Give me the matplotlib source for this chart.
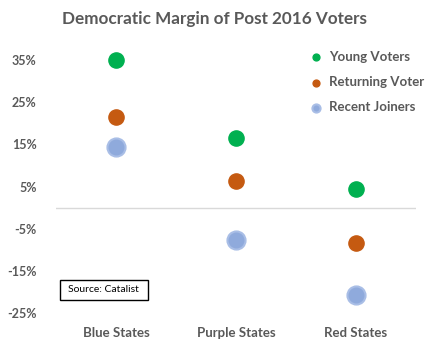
import numpy as np
import matplotlib.pyplot as plt
from matplotlib.patches import Rectangle

states = ["Blue States", "Purple States", "Red States"]
young = [35, 16.4, 4.5]
returning = [21.4, 6.4, -8.3]
recent = [14.3, -7.6, -20.7]
yticks = [-25, -15, -5, 5, 15, 25, 35]

plt.rcParams['font.family'] = ['Lato', 'DejaVu Sans']

fig = plt.figure(figsize=(4.29, 3.56), dpi=100)
ax = fig.add_axes([0.1305, 0.1208, 0.8392, 0.7696])

x = np.arange(1, len(states) + 1)
ax.scatter(x, young, s=120, color="#00B050", label="Young Voters", zorder=3)
ax.scatter(x, returning, s=120, color="#C55A11", label="Returning Voter", zorder=3)
ax.scatter(x, recent, s=170, color="#8FAADC", edgecolor="#A9BEE6", linewidth=1.5,
           label="Recent Joiners", zorder=3)

ax.axhline(0, color="#D9D9D9", lw=1, zorder=1)
ax.set_xlim(0.5, 3.5)
ax.set_ylim(-25, 40)
ax.set_yticks(yticks)
ax.set_yticklabels([f"{t}%" for t in yticks], color="#595959", fontsize=9, fontweight="bold")
ax.set_xticks(x)
ax.set_xticklabels(states, color="#595959", fontsize=9.5, fontweight="bold")
ax.tick_params(length=0, axis="y", pad=14)
ax.tick_params(length=0, axis="x", pad=10)
for s in ax.spines.values():
    s.set_visible(False)

fig.suptitle("Democratic Margin of Post 2016 Voters", x=0.5, y=0.97,
             fontsize=12.3, fontweight="bold", color="#595959")

leg = ax.legend(loc="upper right", bbox_to_anchor=(1.055, 1.0), frameon=False,
                markerscale=0.45, handletextpad=0.0, labelspacing=1.0,
                prop={"size": 9.5, "weight": "bold"})
for t in leg.get_texts():
    t.set_color("#595959")

# source box
ax.add_patch(Rectangle((0.011, 0.047), 0.244, 0.073, transform=ax.transAxes,
                       fc="white", ec="black", lw=1, zorder=4))
ax.text(0.133, 0.084, "Source: Catalist", transform=ax.transAxes, fontsize=7.5,
        va="center", ha="center", zorder=5)

fig.savefig("out.png", dpi=100)
